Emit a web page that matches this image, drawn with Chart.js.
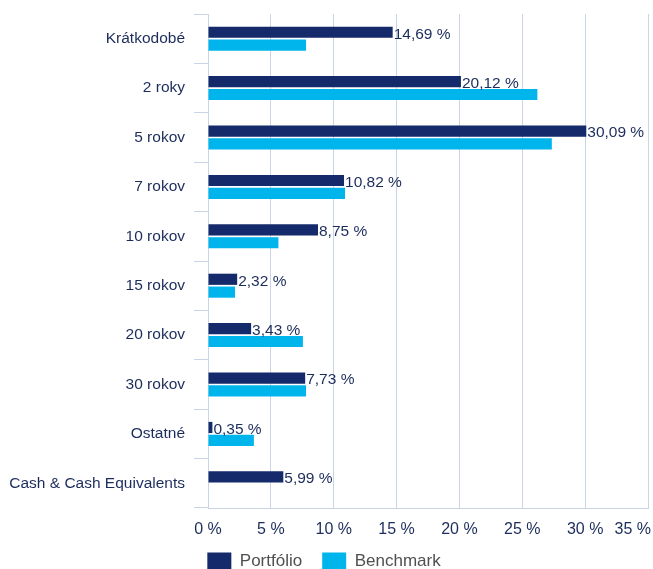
<!DOCTYPE html>
<html lang="sk">
<head>
    <meta charset="UTF-8">
    <title>Portfólio vs Benchmark</title>
    <style>
        html, body {
            margin: 0;
            padding: 0;
            background-color: #ffffff;
        }
        .chart-wrap {
            position: relative;
            width: 653px;
            height: 569px;
        }
    </style>
    <script src="https://cdn.jsdelivr.net/npm/chart.js@4.4.0/dist/chart.umd.min.js"></script>
</head>
<body>
    <div class="chart-wrap">
        <canvas id="durationChart"></canvas>
    </div>

    <script>
        const categories = ['Krátkodobé', '2 roky', '5 rokov', '7 rokov', '10 rokov', '15 rokov',
            '20 rokov', '30 rokov', 'Ostatné', 'Cash & Cash Equivalents'];
        const portfolio = [14.69, 20.12, 30.09, 10.82, 8.75, 2.32, 3.43, 7.73, 0.35, 5.99];
        const benchmark = [7.8, 26.2, 27.35, 10.9, 5.6, 2.15, 7.55, 7.8, 3.65, 0];
        const xTicks = [0, 5, 10, 15, 20, 25, 30, 35];

        const navy = '#142a6a';
        const cyan = '#00b5ec';
        const textNavy = '#1c2c5c';
        const gridColor = '#c9d4e6';
        const fontFamily = '"Liberation Sans", Arial, Helvetica, sans-serif';

        const fmt = v => v.toFixed(2).replace('.', ',') + ' %';

        // value labels only on the Portfólio bars
        const valueLabels = {
            id: 'valueLabels',
            afterDatasetsDraw(chart) {
                const ctx = chart.ctx;
                const meta = chart.getDatasetMeta(0);
                ctx.save();
                ctx.font = '15.5px ' + fontFamily;
                ctx.fillStyle = textNavy;
                ctx.textBaseline = 'middle';
                ctx.textAlign = 'left';
                meta.data.forEach((bar, i) => {
                    ctx.fillText(fmt(portfolio[i]), bar.x + 1, bar.y + 2);
                });
                ctx.restore();
            }
        };

        // x tick labels drawn by hand so the last one can hug the right edge
        const xTickLabels = {
            id: 'xTickLabels',
            afterDraw(chart) {
                const ctx = chart.ctx;
                const scale = chart.scales.x;
                ctx.save();
                ctx.font = '16px ' + fontFamily;
                ctx.fillStyle = textNavy;
                ctx.textBaseline = 'middle';
                ctx.textAlign = 'left';
                xTicks.forEach(v => {
                    const label = v + ' %';
                    const w = ctx.measureText(label).width;
                    let left = scale.getPixelForValue(v) - w / 2;
                    if (left + w > chart.width - 2) left = chart.width - 2 - w;
                    ctx.fillText(label, left, chart.chartArea.bottom + 22);
                });
                ctx.restore();
            }
        };

        new Chart(document.getElementById('durationChart'), {
            type: 'bar',
            data: {
                labels: categories,
                datasets: [
                    {
                        label: 'Portfólio',
                        data: portfolio,
                        backgroundColor: navy,
                        categoryPercentage: 0.52,
                        barPercentage: 0.87
                    },
                    {
                        label: 'Benchmark',
                        data: benchmark,
                        backgroundColor: cyan,
                        categoryPercentage: 0.52,
                        barPercentage: 0.87
                    }
                ]
            },
            options: {
                indexAxis: 'y',
                responsive: true,
                maintainAspectRatio: false,
                animation: false,
                layout: {
                    padding: { top: 14, right: 5, left: 0, bottom: -10.5 }
                },
                plugins: {
                    legend: {
                        position: 'bottom',
                        labels: {
                            boxWidth: 24,
                            boxHeight: 17,
                            padding: 20,
                            color: '#505050',
                            font: { family: fontFamily, size: 17 }
                        }
                    },
                    tooltip: { enabled: false }
                },
                scales: {
                    x: {
                        min: 0,
                        max: 35,
                        ticks: { stepSize: 5, display: false },
                        grid: { color: gridColor, drawTicks: false },
                        border: { color: gridColor },
                        afterFit: s => { s.height = 24.5; }
                    },
                    y: {
                        ticks: {
                            color: textNavy,
                            padding: 9,
                            font: { family: fontFamily, size: 15.5 }
                        },
                        grid: {
                            color: gridColor,
                            drawOnChartArea: false,
                            tickLength: 14,
                            offset: true
                        },
                        border: { color: gridColor },
                        afterFit: s => {
                            s.width = 208;
                            s.paddingTop = 0;
                            s.paddingBottom = 0;
                        }
                    }
                }
            },
            plugins: [valueLabels, xTickLabels]
        });
    </script>
</body>
</html>
